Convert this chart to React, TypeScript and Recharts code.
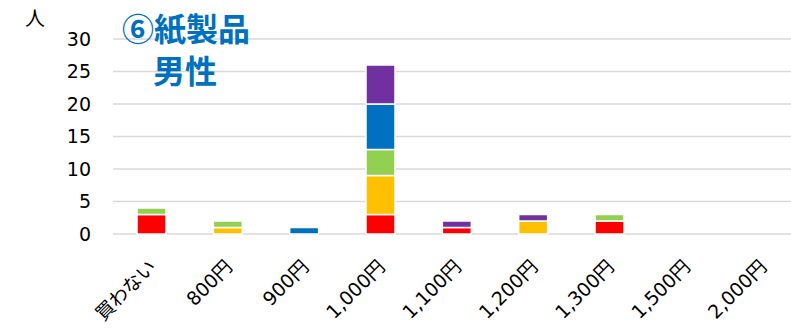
import { BarChart, Bar, XAxis, YAxis, CartesianGrid } from 'recharts';

// 価格帯別 購入意向（紙製品・男性）
const categories = ['買わない', '800円', '900円', '1,000円', '1,100円', '1,200円', '1,300円', '1,500円', '2,000円'];
const redVals = [3, 0, 0, 3, 1, 0, 2, 0, 0];
const orangeVals = [0, 1, 0, 6, 0, 2, 0, 0, 0];
const greenVals = [1, 1, 0, 4, 0, 0, 1, 0, 0];
const blueVals = [0, 0, 1, 7, 0, 0, 0, 0, 0];
const purpleVals = [0, 0, 0, 6, 1, 1, 0, 0, 0];
const yTicks = [0, 5, 10, 15, 20, 25, 30];

const series = [
  { key: 'r', vals: redVals, color: '#FF0000' },
  { key: 'o', vals: orangeVals, color: '#FFC000' },
  { key: 'g', vals: greenVals, color: '#92D050' },
  { key: 'b', vals: blueVals, color: '#0070C0' },
  { key: 'p', vals: purpleVals, color: '#7030A0' },
];

const data = categories.map((name, i) => {
  const row: Record<string, string | number> = { name };
  series.forEach((s) => {
    row[s.key] = s.vals[i];
  });
  return row;
});

const FONT = '"DejaVu Sans", Verdana, "Noto Sans CJK JP", sans-serif';
const JP = '"Noto Sans CJK JP", sans-serif';

function XTick({ x, y, payload }: any) {
  const ax = x + 6;
  const ay = y + 26;
  return (
    <text
      x={ax}
      y={ay}
      transform={`rotate(-45, ${ax}, ${ay})`}
      textAnchor="end"
      fontSize={19}
      fontFamily={FONT}
      fill="#000"
    >
      {payload.value}
    </text>
  );
}

export default function App() {
  return (
    <div style={{ position: 'absolute', left: 0, top: 0, width: 791, height: 329, overflow: 'hidden', background: '#fff' }}>
      <BarChart
        width={800}
        height={329}
        data={data}
        margin={{ top: 39, right: 0, bottom: 0, left: 0 }}
      >
        <CartesianGrid vertical={false} stroke="#d9d9d9" strokeWidth={1.5} />
        <XAxis
          dataKey="name"
          height={95}
          axisLine={false}
          tickLine={false}
          interval={0}
          tick={<XTick />}
        />
        <YAxis
          width={113}
          domain={[0, 30]}
          ticks={yTicks}
          axisLine={false}
          tickLine={false}
          tick={{ fontSize: 19, fill: '#000', fontFamily: FONT }}
          tickMargin={16}
        />
        {series.map((s) => (
          <Bar
            key={s.key}
            dataKey={s.key}
            stackId="a"
            fill={s.color}
            stroke="#fff"
            strokeWidth={1.5}
            barSize={29}
            isAnimationActive={false}
          />
        ))}
      </BarChart>
      <div style={{ position: 'absolute', left: 25, top: 6, fontSize: 20, lineHeight: '24px', fontFamily: JP, color: '#000' }}>
        人
      </div>
      <div
        style={{
          position: 'absolute',
          left: 122,
          top: 10,
          fontSize: 32,
          lineHeight: '34px',
          fontWeight: 'bold',
          color: '#0070C0',
          fontFamily: JP,
          whiteSpace: 'nowrap',
        }}
      >
        ⑥紙製品
      </div>
      <div
        style={{
          position: 'absolute',
          left: 153,
          top: 52,
          fontSize: 32,
          lineHeight: '34px',
          fontWeight: 'bold',
          color: '#0070C0',
          fontFamily: JP,
          whiteSpace: 'nowrap',
        }}
      >
        男性
      </div>
    </div>
  );
}
